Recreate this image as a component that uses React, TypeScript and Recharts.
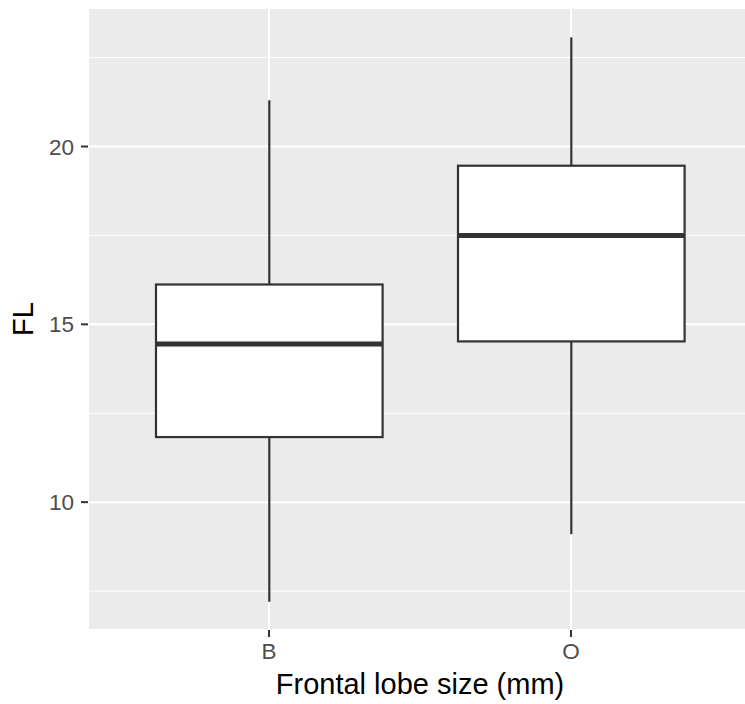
import React from "react";
import { ComposedChart, Bar, XAxis, YAxis, CartesianGrid } from "recharts";

// five-number summaries of frontal lobe size per species
const species = ["B", "O"];
const flMin = [7.2, 9.1];
const flQ1 = [11.83, 14.52];
const flMedian = [14.45, 17.5];
const flQ3 = [16.12, 19.46];
const flMax = [21.3, 23.07];

const yTicks = [10, 15, 20];
const yMinor = [7.5, 12.5, 17.5, 22.5];
const yDomain = [6.405, 23.895];

const data = species.map((s, i) => ({
  species: s,
  range: [flMin[i], flMax[i]],
  min: flMin[i],
  q1: flQ1[i],
  median: flMedian[i],
  q3: flQ3[i],
  max: flMax[i],
}));

const INK = "#333333";
const FONT = '"Liberation Sans", Arial, Helvetica, sans-serif';

// the bar spans min..max, quartiles are placed inside it on the same linear scale
function BoxShape(props: any) {
  const { x, y, width, height, payload } = props;
  const top = Math.min(y, y + height);
  const span = Math.abs(height);
  const lo = payload.min;
  const hi = payload.max;
  const py = (v: number) => top + (span * (hi - v)) / (hi - lo);
  const cx = x + width / 2;
  const yQ3 = py(payload.q3);
  const yQ1 = py(payload.q1);
  const yMed = py(payload.median);
  return (
    <g>
      <line x1={cx} x2={cx} y1={py(hi)} y2={yQ3} stroke={INK} strokeWidth={2.2} />
      <line x1={cx} x2={cx} y1={yQ1} y2={py(lo)} stroke={INK} strokeWidth={2.2} />
      <rect x={x} y={yQ3} width={width} height={yQ1 - yQ3} fill="#ffffff" stroke={INK} strokeWidth={2.2} />
      <line x1={x} x2={x + width} y1={yMed} y2={yMed} stroke={INK} strokeWidth={5} />
    </g>
  );
}

function YTitle(props: any) {
  const { viewBox } = props;
  const cy = viewBox.y + viewBox.height / 2;
  return (
    <text x={33} y={cy} transform={`rotate(-90, 33, ${cy})`} textAnchor="middle" fontSize={29} fill="#000">
      FL
    </text>
  );
}

function XTitle(props: any) {
  const { viewBox } = props;
  const cx = viewBox.x + viewBox.width / 2;
  return (
    <text x={cx} y={694} textAnchor="middle" fontSize={29} fill="#000">
      Frontal lobe size (mm)
    </text>
  );
}

export default function App() {
  return (
    <div
      style={{
        position: "absolute",
        left: 0,
        top: 0,
        width: 745,
        height: 704,
        overflow: "hidden",
        background: "#fff",
        fontFamily: FONT,
      }}
    >
      <ComposedChart
        width={752}
        height={704}
        data={data}
        margin={{ top: 8, right: 0, bottom: 0, left: 0 }}
        barSize={226.6}
      >
        <CartesianGrid
          horizontal
          vertical={false}
          horizontalValues={yMinor}
          fill="#EBEBEB"
          fillOpacity={1}
          stroke="#ffffff"
          strokeWidth={1}
          strokeDasharray=""
        />
        <CartesianGrid stroke="#ffffff" strokeWidth={2} strokeDasharray="" />
        <XAxis
          dataKey="species"
          type="category"
          height={74}
          padding={{ left: 30, right: 30 }}
          axisLine={false}
          tickSize={7}
          tickMargin={6}
          tickLine={{ stroke: INK, strokeWidth: 2 }}
          tick={{ fill: "#4D4D4D", fontSize: 22.5 }}
          label={<XTitle />}
        />
        <YAxis
          type="number"
          width={88}
          domain={yDomain}
          ticks={yTicks}
          allowDataOverflow
          axisLine={false}
          tickSize={7}
          tickMargin={7}
          tickLine={{ stroke: INK, strokeWidth: 2 }}
          tick={{ fill: "#4D4D4D", fontSize: 22.5 }}
          label={<YTitle />}
        />
        <Bar dataKey="range" shape={<BoxShape />} isAnimationActive={false} />
      </ComposedChart>
    </div>
  );
}
